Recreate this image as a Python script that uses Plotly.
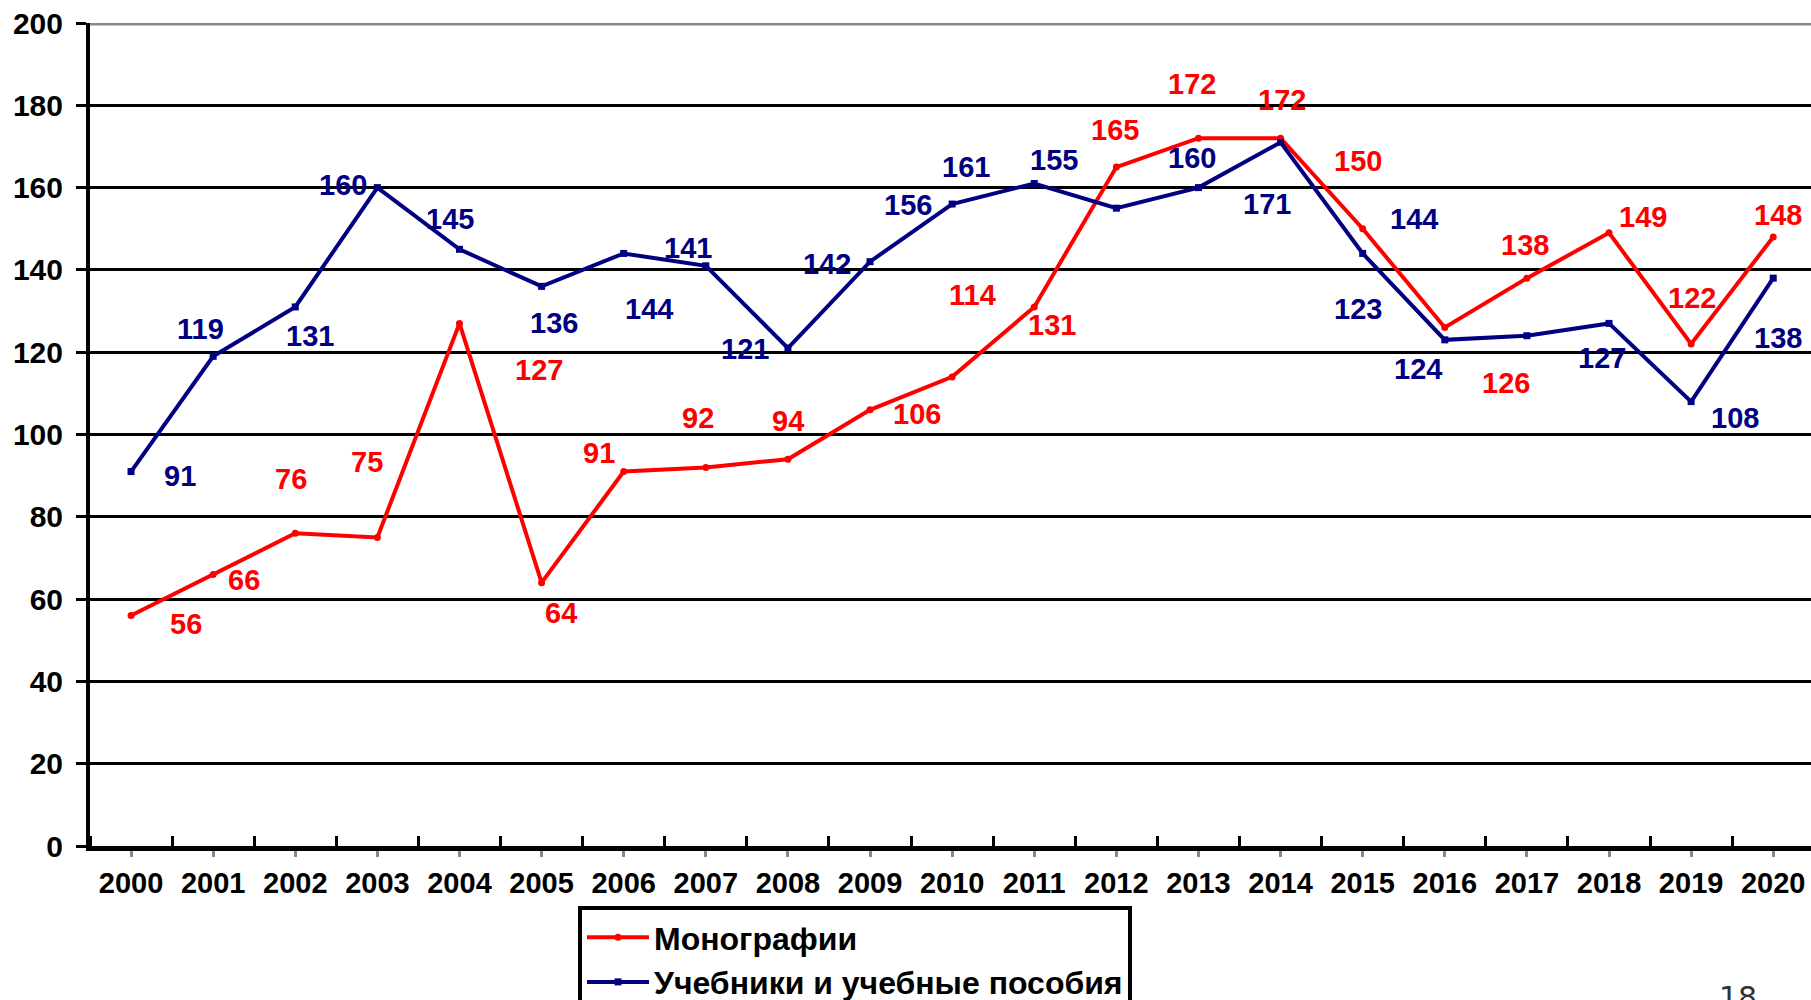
import plotly.graph_objects as go

years = list(range(2000, 2021))
monographs = [56, 66, 76, 75, 127, 64, 91, 92, 94, 106, 114, 131, 165, 172, 172, 150, 126, 138, 149, 122, 148]
textbooks = [91, 119, 131, 160, 145, 136, 144, 141, 121, 142, 156, 161, 155, 160, 171, 144, 123, 124, 127, 108, 138]
y_ticks = [0, 20, 40, 60, 80, 100, 120, 140, 160, 180, 200]
name_mono = "Монографии"
name_text = "Учебники и учебные пособия"

# label offsets (reference pixels at 1568 width), dx right, dy down
mono_off = [(48, 7), (27, 5), (-4, -47), (-9, -65), (69, 40), (17, 26), (-21, -16), (-7, -43), (0, -33),
            (41, 4), (18, -71), (15, 16), (-1, -32), (-6, -47), (1, -33), (-4, -59), (53, 48), (-2, -29),
            (29, -14), (1, -40), (4, -19)]
text_off = [(42, 4), (-11, -24), (13, 25), (-30, -2), (-8, -26), (11, 32), (22, 48), (-15, -15), (-37, 1),
            (-37, 2), (-38, 1), (-59, -14), (-54, -42), (-6, -26), (-12, 53), (44, -30), (-75, -27),
            (-94, 29), (-6, 30), (38, 14), (4, 52)]
S = 1811 / 1568

RED = "#FF0000"
NAVY = "#000080"
FONT = "Liberation Sans, Arial, sans-serif"

fig = go.Figure()
fig.add_trace(go.Scatter(x=years, y=monographs, name=f"<b>{name_mono}</b>", mode="lines+markers",
                         line=dict(color=RED, width=4), marker=dict(color=RED, size=7, symbol="circle"),
                         legendgroup="a"))
fig.add_trace(go.Scatter(x=years, y=textbooks, name=f"<b>{name_text}</b>", mode="lines+markers",
                         line=dict(color=NAVY, width=4), marker=dict(color=NAVY, size=7, symbol="square"),
                         legendgroup="b"))

annotations = []
for series, offs, col in ((monographs, mono_off, RED), (textbooks, text_off, NAVY)):
    for x, v, (dx, dy) in zip(years, series, offs):
        annotations.append(dict(x=x, y=v, xref="x", yref="y", text=f"<b>{v}</b>", showarrow=False,
                                xshift=dx * S, yshift=-dy * S,
                                font=dict(family=FONT, size=29, color=col)))
annotations.append(dict(x=0.9576, y=-0.16, xref="paper", yref="paper", xanchor="center",
                        yanchor="top", text="18", showarrow=False,
                        font=dict(family="DejaVu Sans, sans-serif", size=30, color="#333333")))

fig.update_layout(
    width=1811, height=1000,
    margin=dict(l=90, r=0, t=23, b=154),
    paper_bgcolor="white", plot_bgcolor="white",
    showlegend=True,
    legend=dict(xref="paper", yref="container", x=(578 - 90) / 1721, y=0.094,
                xanchor="left", yanchor="top",
                bordercolor="black", borderwidth=4, bgcolor="white",
                font=dict(family=FONT, size=32, color="black"),
                tracegroupgap=0, itemwidth=62),
    annotations=annotations,
    xaxis=dict(range=[1999.5, 2020.46], tickmode="array", tickvals=years,
               ticktext=[f"<b>{y}</b>" for y in years],
               ticks="outside", ticklen=6, tickwidth=3, tickcolor="#888888",
               ticklabelstandoff=1, tickangle=0,
               minor=dict(tickmode="linear", tick0=1999.5, dtick=1, ticks="inside", ticklen=10,
                          tickwidth=3, tickcolor="black", showgrid=False),
               showline=True, linecolor="black", linewidth=5, showgrid=False, zeroline=False,
               tickfont=dict(family=FONT, size=29, color="black")),
    yaxis=dict(range=[0, 200], tickmode="array", tickvals=y_ticks,
               ticktext=[f"<b>{t}</b>" for t in y_ticks],
               ticks="outside", ticklen=10, tickwidth=3, tickcolor="black",
               ticklabelstandoff=7,
               showline=True, linecolor="black", linewidth=4,
               showgrid=True, gridcolor="black", gridwidth=3, zeroline=False,
               tickfont=dict(family=FONT, size=30, color="black")),
    shapes=[dict(type="line", xref="paper", yref="y", x0=0, x1=1, y0=200, y1=200,
                 line=dict(color="#888888", width=5))],
)

fig.write_html("out.html", config={"displayModeBar": False},
               post_script="document.body.style.margin='0';document.body.style.overflow='hidden';")
